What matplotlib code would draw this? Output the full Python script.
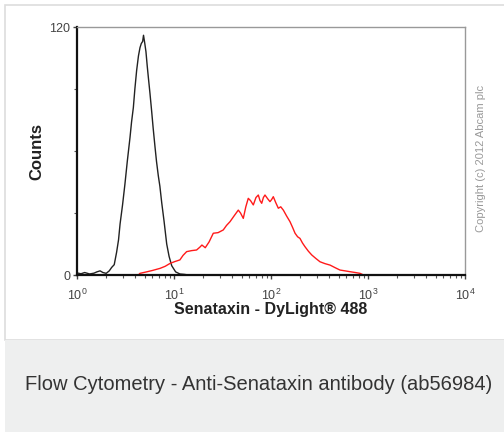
import numpy as np
import matplotlib
matplotlib.use("Agg")
import matplotlib.pyplot as plt
from matplotlib.patches import Rectangle
from matplotlib.ticker import LogLocator, FixedLocator

plt.rcParams['font.family'] = ['Liberation Sans', 'DejaVu Sans']

black_x = [1.0, 1.1, 1.2, 1.35, 1.5, 1.6, 1.73, 1.85, 2.0, 2.15, 2.28, 2.42,
           2.56, 2.68, 2.78, 2.95, 3.12, 3.3, 3.52, 3.65, 3.81, 3.95, 4.12,
           4.3, 4.46, 4.6, 4.75, 4.85, 5.0, 5.14, 5.3, 5.44, 5.65, 5.89, 6.1,
           6.37, 6.6, 6.89, 7.15, 7.47, 7.9, 8.41, 8.9, 9.47, 10.4, 11.5,
           12.8, 14.1]
black_y = [1.0, 0.6, 1.2, 0.5, 0.9, 1.5, 2.0, 1.2, 0.8, 2.0, 3.7, 5.0, 11,
           17, 24.7, 34, 44, 55, 66.6, 74, 81, 90, 99, 106, 110, 112, 113,
           116, 112, 108, 101, 95.6, 88, 79, 71, 62, 55, 48, 43, 35, 26, 15,
           9, 4.5, 1.5, 0.5, 0.3, 0]

red_x = [4.29, 4.46, 5.2, 6.0, 7.17, 8.1, 9.1, 10.2, 11.5, 12.4, 13.5, 15.2,
         17.1, 18.5, 19.4, 21.0, 23.0, 25.4, 28.5, 32.2, 34.8, 37.8, 41.5,
         46.0, 48.5, 51.8, 55.0, 58.3, 61.5, 65.7, 70.0, 74.0, 77.0, 80.2,
         83.5, 86.7, 92.0, 97.6, 101.5, 105.6, 112, 119, 126, 134, 145, 157,
         167, 177, 188, 199, 211, 224, 243, 263, 290, 320, 360, 406, 460, 514,
         580, 652, 740, 828, 900]
red_y = [0, 0.8, 1.5, 2.2, 3.2, 4.2, 5.6, 6.5, 7.3, 9.5, 11.3, 11.8, 12.1,
         13.5, 14.5, 13.2, 16.0, 20.2, 20.5, 21.8, 24.0, 25.8, 28.5, 31.4,
         30.0, 27.4, 33.0, 37.1, 36.0, 33.9, 37.5, 38.7, 36.0, 34.7, 37.5,
         38.7, 37.0, 35.5, 36.5, 37.9, 35.0, 32.3, 33.0, 31.4, 28.5, 25.8,
         23.0, 20.2, 18.5, 17.7, 15.5, 13.7, 11.5, 9.7, 8.0, 6.4, 5.5, 4.8,
         3.5, 2.4, 2.0, 1.6, 1.2, 0.8, 0]

y_ticks = [0, 120]
y_minor = [30, 60, 90]
caption = "Flow Cytometry - Anti-Senataxin antibody (ab56984)"

fig = plt.figure(figsize=(5.04, 4.32), dpi=100)

# marco blanco y franja gris del pie
fig.patches.append(Rectangle((5 / 504, 92 / 432), 1.0, 1.0 - 97 / 432,
                             transform=fig.transFigure, facecolor='white',
                             edgecolor='#dddddd', lw=1.2, zorder=-2))
fig.patches.append(Rectangle((5 / 504, 0), 1.0, 92 / 432,
                             transform=fig.transFigure, facecolor='#eeefef',
                             edgecolor='none', zorder=-2))

ax = fig.add_axes([77 / 504, 157 / 432, 388 / 504, 248 / 432])
ax.plot(black_x, black_y, color='#222222', lw=1.0)
ax.plot(red_x, red_y, color='#ff1a1a', lw=1.0)

ax.set_xscale('log')
ax.set_xlim(1, 1e4)
ax.set_ylim(0, 120)
ax.xaxis.set_major_locator(LogLocator(base=10, numticks=10))
ax.xaxis.set_minor_locator(LogLocator(base=10, subs=np.arange(2, 10), numticks=20))
ax.yaxis.set_major_locator(FixedLocator(y_ticks))
ax.yaxis.set_minor_locator(FixedLocator(y_minor))

for s in ['left', 'bottom']:
    ax.spines[s].set_color('#111111')
    ax.spines[s].set_linewidth(1.6)
for s in ['top', 'right']:
    ax.spines[s].set_color('#999999')
    ax.spines[s].set_linewidth(1.0)

ax.tick_params(axis='both', which='major', direction='out', length=3,
               width=1, colors='#444444', labelsize=9)
ax.tick_params(axis='x', which='major', pad=6)
ax.tick_params(axis='y', which='major', pad=2)
ax.tick_params(axis='both', which='minor', direction='out', length=2,
               width=0.8, colors='#555555')

ax.set_xlabel("Senataxin - DyLight® 488", fontsize=11.5, fontweight='bold',
              color='#222222', va='center')
ax.xaxis.set_label_coords(0.5, -0.141)
ax.set_ylabel("Counts", fontsize=12, fontweight='bold', color='#222222',
              va='center')
ax.yaxis.set_label_coords(-0.103, 0.5)

fig.text(481 / 504, 1 - 158 / 432, "Copyright (c) 2012 Abcam plc",
         rotation=90, fontsize=8, color='#999999', ha='center', va='center')

fig.text(259 / 504, 1 - 385 / 432, caption, fontsize=14.5, color='#333333',
         ha='center', va='center')

fig.savefig('out.png', dpi=100)
